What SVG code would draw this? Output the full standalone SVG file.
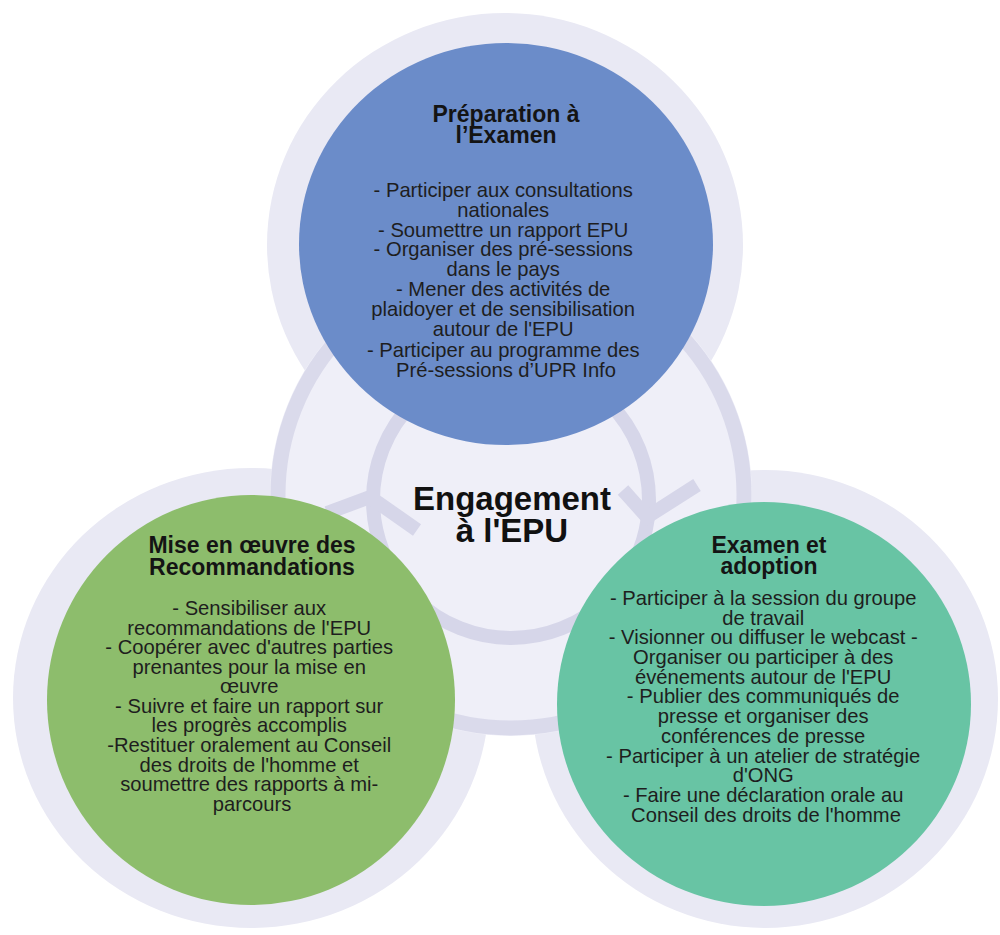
<svg xmlns="http://www.w3.org/2000/svg" width="1000" height="935" viewBox="0 0 1000 935">
<defs>
<style>
.halo{fill:#e9e9f4}
.title{font-family:"Liberation Sans",Arial,sans-serif;font-weight:bold;font-size:23px;fill:#141414;text-anchor:middle}
.body{font-family:"Liberation Sans",Arial,sans-serif;font-size:20.2px;fill:#1e1e1e;text-anchor:middle}
.center{font-family:"Liberation Sans",Arial,sans-serif;font-weight:bold;font-size:33px;fill:#111;text-anchor:middle}
.ring{fill:none;stroke:#d6d6e9;stroke-width:14}
</style>
</defs>
<rect width="1000" height="935" fill="#ffffff"/>
<g id="halos">
<ellipse class="halo" cx="505" cy="245" rx="238" ry="232"/>
<ellipse class="halo" cx="251" cy="698" rx="238" ry="230"/>
<ellipse class="halo" cx="765" cy="699" rx="233" ry="229"/>
</g>
<g id="center-node">
<circle cx="511" cy="495" r="241" fill="#efeff8"/>
<circle cx="511" cy="495" r="233" fill="none" stroke="#dadaeb" stroke-width="15"/>
</g>
<g id="connectors">
<circle class="ring" cx="511" cy="500" r="138"/>
<polyline class="ring" points="327,513 370,497 417,530"/>
<polyline class="ring" points="623,490 647,517 697,485"/>
</g>
<g id="node-preparation">
<ellipse cx="506" cy="244" rx="207" ry="201" fill="#6b8cc9"/>
<text class="title"><tspan x="506" y="122">Préparation à</tspan><tspan x="506" y="143">l’Examen</tspan></text>
<text class="body">
<tspan x="506" y="197">- Participer aux consultations</tspan>
<tspan x="506" y="217">nationales</tspan>
<tspan x="506" y="237">- Soumettre un rapport EPU</tspan>
<tspan x="506" y="256">- Organiser des pré-sessions</tspan>
<tspan x="506" y="276">dans le pays</tspan>
<tspan x="506" y="296">- Mener des activités de</tspan>
<tspan x="506" y="316">plaidoyer et de sensibilisation</tspan>
<tspan x="506" y="336">autour de l'EPU</tspan>
<tspan x="506" y="357">- Participer au programme des</tspan>
<tspan x="506" y="377">Pré-sessions d’UPR Info</tspan>
</text>
</g>
<g id="node-mise-en-oeuvre">
<ellipse cx="251" cy="700" rx="204" ry="205" fill="#8dbd6c"/>
<text class="title"><tspan x="252" y="553">Mise en œuvre des</tspan><tspan x="252" y="575">Recommandations</tspan></text>
<text class="body">
<tspan x="252" y="615">- Sensibiliser aux</tspan>
<tspan x="252" y="635">recommandations de l'EPU</tspan>
<tspan x="252" y="654">- Coopérer avec d'autres parties</tspan>
<tspan x="252" y="674">prenantes pour la mise en</tspan>
<tspan x="252" y="693">œuvre</tspan>
<tspan x="252" y="713">- Suivre et faire un rapport sur</tspan>
<tspan x="252" y="732">les progrès accomplis</tspan>
<tspan x="252" y="752">-Restituer oralement au Conseil</tspan>
<tspan x="252" y="772">des droits de l'homme et</tspan>
<tspan x="252" y="791">soumettre des rapports à mi-</tspan>
<tspan x="252" y="811">parcours</tspan>
</text>
</g>
<g id="node-examen">
<ellipse cx="764" cy="704" rx="207" ry="202" fill="#68c4a4"/>
<text class="title"><tspan x="769" y="553">Examen et</tspan><tspan x="769" y="574">adoption</tspan></text>
<text class="body">
<tspan x="766" y="605">- Participer à la session du groupe</tspan>
<tspan x="766" y="625">de travail</tspan>
<tspan x="766" y="644">- Visionner ou diffuser le webcast -</tspan>
<tspan x="766" y="664">Organiser ou participer à des</tspan>
<tspan x="766" y="684">événements autour de l'EPU</tspan>
<tspan x="766" y="703">- Publier des communiqués de</tspan>
<tspan x="766" y="723">presse et organiser des</tspan>
<tspan x="766" y="743">conférences de presse</tspan>
<tspan x="766" y="763">- Participer à un atelier de stratégie</tspan>
<tspan x="766" y="782">d'ONG</tspan>
<tspan x="766" y="802">- Faire une déclaration orale au</tspan>
<tspan x="766" y="822">Conseil des droits de l'homme</tspan>
</text>
</g>
<g id="node-engagement">
<text class="center"><tspan x="512" y="510">Engagement</tspan><tspan x="512" y="542">à l'EPU</tspan></text>
</g>
</svg>
